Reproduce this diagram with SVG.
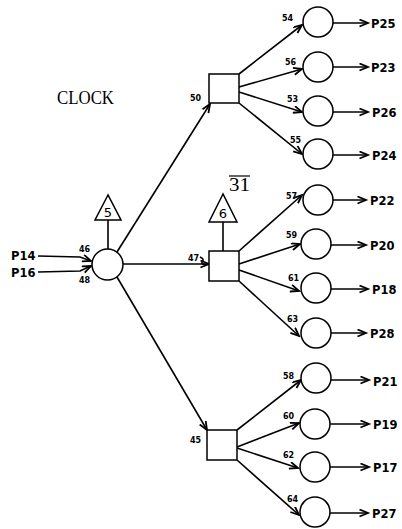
<svg xmlns="http://www.w3.org/2000/svg" width="402" height="529" viewBox="0 0 402 529">
<defs>
<marker id="arr" markerUnits="userSpaceOnUse" markerWidth="12" markerHeight="10" refX="9" refY="4" orient="auto">
<path d="M0.5,0.5 L9,4 L0.5,7.5" fill="none" stroke="#000" stroke-width="1.8"/>
</marker>
<style>
.s{fill:#fff;stroke:#000;stroke-width:1.5}
.e{fill:none;stroke:#000;stroke-width:1.6;marker-end:url(#arr)}
.l{fill:none;stroke:#000;stroke-width:1.6}
.n{font-family:"DejaVu Sans",sans-serif;font-weight:bold;font-size:8px;fill:#000}
.p{font-family:"DejaVu Sans",sans-serif;font-weight:bold;font-size:11.5px;fill:#000}
.t{font-family:"DejaVu Sans",sans-serif;font-size:13px;fill:#000;text-anchor:middle}
.r{font-family:"Liberation Serif",serif;font-size:18px;fill:#000}
</style>
</defs>
<rect width="402" height="529" fill="#fff"/>
<text class="r" x="57" y="104" textLength="57" lengthAdjust="spacingAndGlyphs">CLOCK</text>
<g id="label31"><text class="r" x="229" y="191" textLength="21" lengthAdjust="spacingAndGlyphs">31</text><line x1="229" y1="176" x2="250" y2="176" stroke="#000" stroke-width="1.2"/></g>
<g id="connectors">
<polyline class="e" points="38,256 80,257 91,261"/>
<polyline class="e" points="38,272 80,271 91,266"/>
<line class="l" x1="108" y1="220" x2="108" y2="249"/>
<line class="l" x1="223" y1="222" x2="223" y2="251"/>
<line class="e" x1="117" y1="252" x2="210" y2="104"/>
<line class="e" x1="123" y1="264" x2="209" y2="264"/>
<line class="e" x1="117" y1="277" x2="207" y2="430"/>
<line class="e" x1="239" y1="74" x2="302" y2="25"/>
<line class="e" x1="239" y1="87" x2="302" y2="69"/>
<line class="e" x1="239" y1="92" x2="302" y2="112"/>
<line class="e" x1="239" y1="103" x2="302" y2="154"/>
<line class="e" x1="239" y1="251" x2="302" y2="195"/>
<line class="e" x1="239" y1="264" x2="300" y2="244"/>
<line class="e" x1="239" y1="270" x2="299" y2="291"/>
<line class="e" x1="239" y1="281" x2="299" y2="336"/>
<line class="e" x1="237" y1="430" x2="301" y2="380"/>
<line class="e" x1="237" y1="447" x2="299" y2="423"/>
<line class="e" x1="237" y1="448" x2="298" y2="468"/>
<line class="e" x1="237" y1="460" x2="299" y2="515"/>
<line class="e" x1="333" y1="23" x2="368" y2="23"/>
<line class="e" x1="333" y1="67" x2="368" y2="67"/>
<line class="e" x1="333" y1="112" x2="368" y2="112"/>
<line class="e" x1="333" y1="155" x2="368" y2="155"/>
<line class="e" x1="333" y1="200" x2="366" y2="200"/>
<line class="e" x1="331" y1="245" x2="366" y2="245"/>
<line class="e" x1="331" y1="289" x2="368" y2="289"/>
<line class="e" x1="331" y1="333" x2="366" y2="333"/>
<line class="e" x1="331" y1="380" x2="369" y2="380"/>
<line class="e" x1="330" y1="424" x2="369" y2="424"/>
<line class="e" x1="330" y1="467" x2="369" y2="467"/>
<line class="e" x1="330" y1="513" x2="368" y2="513"/>
<path class="l" d="M200,257 Q205,259 202,262 Q201,264 206,265" stroke-width="1"/>
</g>
<g id="main"><circle class="s" cx="107.5" cy="264.5" r="15.5"/></g>
<g id="t5"><polygon class="s" points="108,195 95,220 121,220"/><text class="t" x="108" y="217">5</text></g>
<g id="t6"><polygon class="s" points="223,194 209,222 237,222"/><text class="t" x="223" y="218">6</text></g>
<g id="s50"><rect class="s" x="209" y="74" width="30" height="29"/></g>
<g id="s47"><rect class="s" x="209" y="251" width="30" height="30"/></g>
<g id="s45"><rect class="s" x="207" y="430" width="30" height="30"/></g>
<g id="c54"><circle class="s" cx="318" cy="22" r="15"/></g>
<g id="c56"><circle class="s" cx="318" cy="67" r="15"/></g>
<g id="c53"><circle class="s" cx="318" cy="111" r="15"/></g>
<g id="c55"><circle class="s" cx="318" cy="154" r="15"/></g>
<g id="c57"><circle class="s" cx="318" cy="200" r="15"/></g>
<g id="c59"><circle class="s" cx="316" cy="244" r="15"/></g>
<g id="c61"><circle class="s" cx="316" cy="288" r="15"/></g>
<g id="c63"><circle class="s" cx="316" cy="333" r="15"/></g>
<g id="c58"><circle class="s" cx="316" cy="378" r="15"/></g>
<g id="c60"><circle class="s" cx="315" cy="424" r="15"/></g>
<g id="c62"><circle class="s" cx="315" cy="467" r="15"/></g>
<g id="c64"><circle class="s" cx="315" cy="512" r="15"/></g>
<g id="labels">
<text class="p" x="11" y="260">P14</text>
<text class="p" x="11" y="277">P16</text>
<text class="n" x="79" y="252">46</text>
<text class="n" x="79" y="283">48</text>
<text class="n" x="190" y="101">50</text>
<text class="n" x="188" y="261">47</text>
<text class="n" x="190" y="443">45</text>
<text class="n" x="282" y="21">54</text>
<text class="n" x="285" y="65">56</text>
<text class="n" x="287" y="102">53</text>
<text class="n" x="290" y="143">55</text>
<text class="n" x="286" y="199">57</text>
<text class="n" x="286" y="238">59</text>
<text class="n" x="288" y="281">61</text>
<text class="n" x="287" y="322">63</text>
<text class="n" x="283" y="379">58</text>
<text class="n" x="283" y="419">60</text>
<text class="n" x="283" y="458">62</text>
<text class="n" x="287" y="502">64</text>
<text class="p" x="371" y="28">P25</text>
<text class="p" x="371" y="72">P23</text>
<text class="p" x="372" y="117">P26</text>
<text class="p" x="372" y="160">P24</text>
<text class="p" x="370" y="205">P22</text>
<text class="p" x="370" y="250">P20</text>
<text class="p" x="372" y="294">P18</text>
<text class="p" x="370" y="338">P28</text>
<text class="p" x="373" y="386">P21</text>
<text class="p" x="373" y="429">P19</text>
<text class="p" x="373" y="472">P17</text>
<text class="p" x="372" y="518">P27</text>
</g>
</svg>
